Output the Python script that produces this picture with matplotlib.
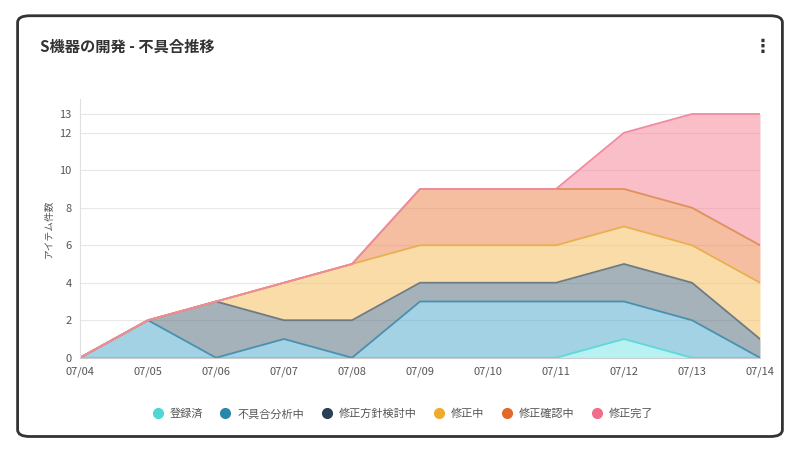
import matplotlib
matplotlib.use("Agg")
import matplotlib.pyplot as plt
import numpy as np
from matplotlib.patches import FancyBboxPatch

plt.rcParams["font.family"] = ["Noto Sans CJK JP", "DejaVu Sans"]

dates = ["07/04", "07/05", "07/06", "07/07", "07/08", "07/09", "07/10", "07/11", "07/12", "07/13", "07/14"]
registered = [0, 0, 0, 0, 0, 0, 0, 0, 1, 0, 0]
analyzing = [0, 2, 0, 1, 0, 3, 3, 3, 2, 2, 0]
planning = [0, 0, 3, 1, 2, 1, 1, 1, 2, 2, 1]
fixing = [0, 0, 0, 2, 3, 2, 2, 2, 2, 2, 3]
verifying = [0, 0, 0, 0, 0, 3, 3, 3, 2, 2, 2]
done = [0, 0, 0, 0, 0, 0, 0, 0, 3, 5, 7]
names = ["登録済", "不具合分析中", "修正方針検討中", "修正中", "修正確認中", "修正完了"]
yticks = [0, 2, 4, 6, 8, 10, 12, 13]

fills = ["#7fe6e6", "#5aaed0", "#5c7480", "#f5c060", "#f08a55", "#f7899c"]
lines = ["#5fd8d8", "#4a90b0", "#6b7c85", "#e8b050", "#e0905a", "#f08aa0"]
dots = ["#4fd6d6", "#2b86ab", "#283f55", "#efab2e", "#e3692a", "#ef6f8b"]

fig = plt.figure(figsize=(8, 4.5), dpi=100)
fig.patches.append(FancyBboxPatch((0.022, 0.03), 0.956, 0.935, boxstyle="round,pad=0,rounding_size=0.015",
                                  transform=fig.transFigure, fill=False, edgecolor="#333333", lw=2))
fig.text(0.05, 0.885, "S機器の開発 - 不具合推移", fontsize=11, fontweight="bold", color="#333333")
fig.text(0.942, 0.885, "⋮", fontsize=13, fontweight="bold", color="#333333")

ax = fig.add_axes([0.1, 0.205, 0.85, 0.575])
x = np.arange(len(dates))
series = [registered, analyzing, planning, fixing, verifying, done]
base = np.zeros(len(dates))
for s, fc, lc in zip(series, fills, lines):
    top = base + np.array(s)
    ax.fill_between(x, base, top, color=fc, alpha=0.55, lw=0)
    ax.plot(x, top, color=lc, lw=1.3)
    base = top

ax.set_xlim(0, len(dates) - 1)
ax.set_ylim(0, 13.8)
ax.set_xticks(x)
ax.set_xticklabels(dates, fontsize=8, color="#555555")
ax.set_yticks(yticks)
ax.set_yticklabels([str(t) for t in yticks], fontsize=8, color="#555555")
ax.yaxis.grid(True, color="#e8e8e8", lw=0.8)
ax.set_axisbelow(True)
for sp in ["top", "right"]:
    ax.spines[sp].set_visible(False)
ax.spines["left"].set_color("#e0e0e0")
ax.spines["bottom"].set_color("#cccccc")
ax.tick_params(length=0, pad=6)
ax.set_ylabel("アイテム件数", fontsize=7, color="#555555")

handles = [plt.Line2D([], [], marker="o", ls="", color=c, markersize=7) for c in dots]
fig.legend(handles, names, loc="center", bbox_to_anchor=(0.5, 0.08), ncol=6, frameon=False,
           fontsize=8, handletextpad=0.1, columnspacing=1.0, labelcolor="#555555")

fig.savefig("out.png", dpi=100)
